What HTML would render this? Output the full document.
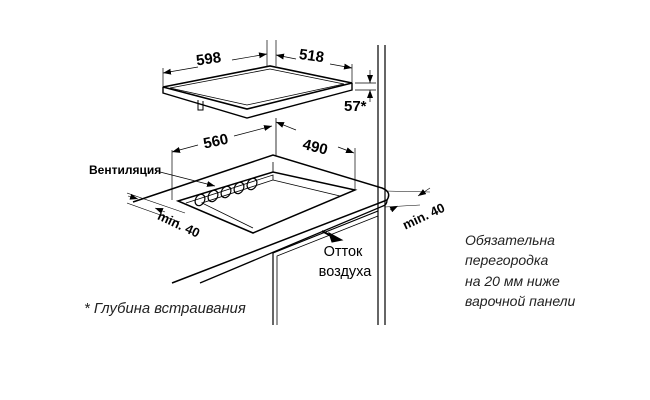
<!DOCTYPE html>
<html><head><meta charset="utf-8"><style>
html,body{margin:0;padding:0;background:#fff}
svg{display:block}
text{font-family:"Liberation Sans",sans-serif}
</style></head><body>
<svg width="650" height="400" viewBox="0 0 650 400" xmlns="http://www.w3.org/2000/svg">
<defs>
<marker id="a" markerWidth="8" markerHeight="6" refX="8" refY="3" orient="auto" markerUnits="userSpaceOnUse"><path d="M0,0 L8,3 L0,6 z" fill="#000"/></marker>
</defs>
<g stroke="#000" fill="none" stroke-width="1">
<line x1="378" y1="45" x2="378" y2="325" stroke-width="1.2"/>
<line x1="385" y1="45" x2="385" y2="325" stroke-width="1.2"/>
<path d="M163,87 L270,66 L352,83 L247,109 Z" fill="#fff" stroke-width="1.6"/>
<path d="M170,88 L270,69 L344,84 L247,105 Z" stroke-width="0.8"/>
<path d="M163,87 L163,93 L247,118 L352,90 L352,83" stroke-width="1.4"/>
<path d="M198,100 L198,110 L203,110 L203,101" stroke-width="1"/>
<line x1="163" y1="68" x2="163" y2="87" stroke-width="0.7"/>
<line x1="267" y1="40" x2="267" y2="66" stroke-width="0.7"/>
<line x1="276" y1="40" x2="276" y2="66" stroke-width="0.7"/>
<line x1="198" y1="67" x2="163" y2="73" stroke-width="0.7" marker-end="url(#a)"/>
<line x1="232" y1="60" x2="267" y2="54" stroke-width="0.7" marker-end="url(#a)"/>
<line x1="296" y1="59" x2="276" y2="55" stroke-width="0.7" marker-end="url(#a)"/>
<line x1="330" y1="64" x2="352" y2="68" stroke-width="0.7" marker-end="url(#a)"/>
<line x1="352" y1="64" x2="352" y2="83" stroke-width="0.7"/>
<line x1="355" y1="83" x2="376" y2="83" stroke-width="0.7"/>
<line x1="355" y1="90" x2="376" y2="90" stroke-width="0.7"/>
<line x1="370" y1="70" x2="370" y2="83" stroke-width="0.7" marker-end="url(#a)"/>
<line x1="370" y1="102" x2="370" y2="90" stroke-width="0.7" marker-end="url(#a)"/>
<line x1="276" y1="118" x2="276" y2="156" stroke-width="0.8"/>
<line x1="172" y1="150" x2="172" y2="200" stroke-width="0.7"/>
<line x1="198" y1="145" x2="172" y2="152" stroke-width="0.7" marker-end="url(#a)"/>
<line x1="234" y1="136" x2="272" y2="126" stroke-width="0.7" marker-end="url(#a)"/>
<line x1="296" y1="130" x2="276" y2="122" stroke-width="0.7" marker-end="url(#a)"/>
<line x1="338" y1="147" x2="354" y2="153" stroke-width="0.7" marker-end="url(#a)"/>
<line x1="355" y1="148" x2="355" y2="190" stroke-width="0.7"/>
<path d="M133,202 L273,155 L382,188 Q392,192 387,200 L172,283" stroke-width="1.5"/>
<path d="M387,200 Q387,205 383,206 L200,283" stroke-width="1.3"/>
<path d="M178,201 L273,172 L355,190 L253,233 Z" stroke-width="1.5"/>
<path d="M273,162 L273,172" stroke-width="0.8"/>
<path d="M186,203 L273,175 L273,180 L202,203 L253,228" stroke-width="0.8"/>
<path d="M273,180 L340,196" stroke-width="0.8"/>
<g stroke-width="1.2">
<ellipse cx="200" cy="200" rx="4.5" ry="6" transform="rotate(30 200 200)"/>
<ellipse cx="213" cy="196" rx="4.5" ry="6" transform="rotate(30 213 196)"/>
<ellipse cx="226" cy="192" rx="4.5" ry="6" transform="rotate(30 226 192)"/>
<ellipse cx="239" cy="188" rx="4.5" ry="6" transform="rotate(30 239 188)"/>
<ellipse cx="252" cy="184" rx="4.5" ry="6" transform="rotate(30 252 184)"/>
</g>
<line x1="160" y1="172" x2="215" y2="186" stroke-width="0.7" marker-end="url(#a)"/>
<line x1="127" y1="193" x2="185" y2="213" stroke-width="0.6"/>
<line x1="127" y1="203" x2="180" y2="222" stroke-width="0.6"/>
<line x1="128" y1="196" x2="138" y2="199" stroke-width="0.6" marker-end="url(#a)"/>
<line x1="165" y1="212" x2="155" y2="208" stroke-width="0.6" marker-end="url(#a)"/>
<line x1="385" y1="191" x2="430" y2="192" stroke-width="0.6"/>
<line x1="385" y1="207" x2="420" y2="205" stroke-width="0.6"/>
<line x1="430" y1="188" x2="418" y2="196" stroke-width="0.6" marker-end="url(#a)"/>
<line x1="390" y1="210" x2="398" y2="206" stroke-width="0.6" marker-end="url(#a)"/>
<path d="M273,325 L273,253 L378,211" stroke-width="1.2"/>
<path d="M277,325 L277,256 L378,216" stroke-width="0.8"/>
<line x1="322" y1="231" x2="333" y2="237" stroke-width="2"/>
<path d="M329,233 L342,240 L332,242 Z" fill="#000"/>
</g>
<g font-weight="bold" font-size="13" fill="#000">
<text x="196" y="63" transform="rotate(-8 214 58)" font-size="15">598</text>
<text x="299" y="61" transform="rotate(8 314 56)" font-size="15">518</text>
<text x="344" y="111" font-size="15">57*</text>
<text x="203" y="146" transform="rotate(-12 216 140)" font-size="15">560</text>
<text x="303" y="152" transform="rotate(14 316 146)" font-size="15">490</text>
<text x="89" y="174" font-size="12">Вентиляция</text>
<text x="157" y="227" transform="rotate(25 175 222)" font-size="13">min. 40</text>
<text x="400" y="222" transform="rotate(-25 420 214)" font-size="13">min. 40</text>
</g>
<g font-size="14.5" fill="#000">
<text x="343" y="256" text-anchor="middle">Отток</text>
<text x="345" y="276" text-anchor="middle">воздуха</text>
</g>
<g font-size="14" font-style="italic" fill="#222">
<text x="84" y="313" font-size="14.8">* Глубина встраивания</text>
<text x="465" y="245">Обязательна</text>
<text x="465" y="265">перегородка</text>
<text x="465" y="286">на 20 мм ниже</text>
<text x="465" y="306">варочной панели</text>
</g>
</svg>
</body></html>
